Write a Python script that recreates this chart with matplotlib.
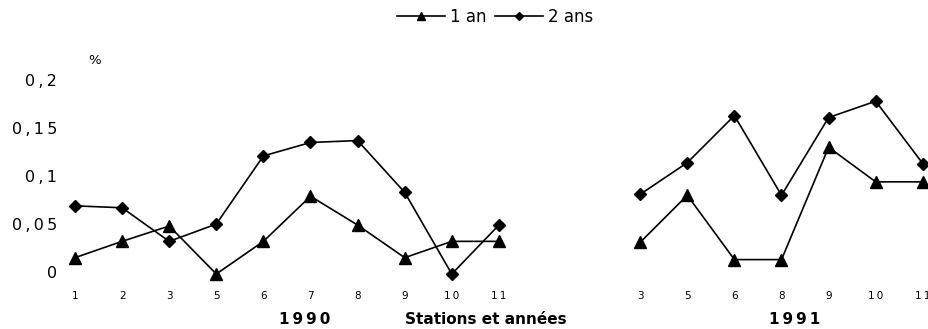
# taux par station, 1990 et 1991, pour les classes d'age 1 an et 2 ans
import numpy as np
import matplotlib.pyplot as plt

plt.rcParams['font.family'] = ['DejaVu Sans']

stations_1990 = ['1', '2', '3', '5', '6', '7', '8', '9', '10', '11']
un_an_1990 = [0.017, 0.034, 0.050, 0.0, 0.034, 0.081, 0.051, 0.017, 0.034, 0.034]
deux_ans_1990 = [0.071, 0.069, 0.034, 0.052, 0.123, 0.137, 0.139, 0.085, 0.0, 0.051]

stations_1991 = ['3', '5', '6', '8', '9', '10', '11']
un_an_1991 = [0.033, 0.082, 0.015, 0.015, 0.132, 0.096, 0.096]
deux_ans_1991 = [0.083, 0.116, 0.165, 0.082, 0.163, 0.180, 0.115]

yticks = [0, 0.05, 0.1, 0.15, 0.2]
ytick_labels = ['0', '0,05', '0,1', '0,15', '0,2']

TS = '\u2009'  # thin space, to open up the lettering


def spaced(s):
    return TS.join(s)


W, H = 929, 329
fig = plt.figure(figsize=(W / 100, H / 100), dpi=100)

# one shared category axis, with two empty slots between the years
x90 = np.arange(len(stations_1990))
x91 = np.arange(len(stations_1991)) + len(stations_1990) + 2
xmin, xmax = -0.5, x91[-1] + 0.1
step = 47.1
left_px = 75 - 0.5 * step
right_px = left_px + (xmax - xmin) * step
ax = fig.add_axes([left_px / W, 55 / H, (right_px - left_px) / W, 192 / H])
ax.set_xlim(xmin, xmax)
ax.set_ylim(0, 0.2)

style = dict(color='black', lw=1.2, clip_on=False)
for xs, a, b in [(x90, un_an_1990, deux_ans_1990), (x91, un_an_1991, deux_ans_1991)]:
    l1, = ax.plot(xs, a, marker='^', ms=8, **style)
    l2, = ax.plot(xs, b, marker='D', ms=6.5, **style)

for s in ax.spines.values():
    s.set_visible(False)

ax.set_xticks(np.concatenate([x90, x91]))
ax.set_xticklabels([spaced(s) for s in stations_1990 + stations_1991], fontsize=7.5)
ax.tick_params(axis='x', length=0, pad=12)
ax.set_yticks([])

for v, lab in zip(yticks, ytick_labels):
    ax.text(-0.38, v, spaced(lab), ha='right', va='center', fontsize=11.5,
            transform=ax.transData)
fig.text(95 / W, 1 - 60 / H, '%', ha='center', va='center', fontsize=9.5)

bold = dict(ha='center', va='center', fontsize=11, fontweight='bold')
fig.text(305 / W, 1 - 319 / H, spaced('1990'), **bold)
fig.text(486 / W, 1 - 319 / H, 'Stations et années', **bold)
fig.text(795 / W, 1 - 319 / H, spaced('1991'), **bold)

fig.legend([l1, l2], ['1 an', '2 ans'], loc='center', bbox_to_anchor=(495 / W, 1 - 17 / H),
           ncol=2, frameon=False, fontsize=12, handlelength=2.9, handletextpad=0.3,
           columnspacing=0.5, markerscale=0.7)

fig.savefig('out.png', dpi=100)
